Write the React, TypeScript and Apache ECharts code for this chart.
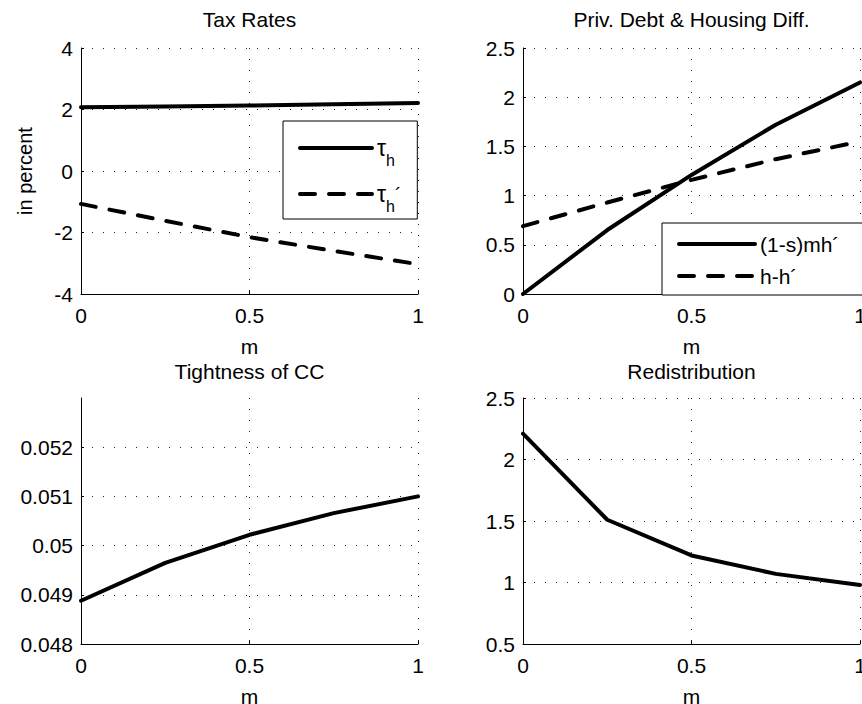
import React, { useEffect, useRef } from "react";
import * as echarts from "echarts";

// ---- data ----
const mValues = [0, 0.25, 0.5, 0.75, 1];
const tauH = [2.07, 2.1, 2.13, 2.17, 2.21];
const tauHPrime = [-1.07, -1.62, -2.15, -2.6, -3.03];
const privDebt = [0, 0.65, 1.21, 1.72, 2.15];
const housingDiff = [0.69, 0.93, 1.16, 1.37, 1.55];
const tightness = [0.04888, 0.04965, 0.05022, 0.05066, 0.051];
const redistribution = [2.21, 1.51, 1.22, 1.07, 0.98];

const titles = ["Tax Rates", "Priv. Debt & Housing Diff.", "Tightness of CC", "Redistribution"];
const xTicks = [0, 0.5, 1];
const yTicksTax = [-4, -2, 0, 2, 4];
const yTicksDebt = [0, 0.5, 1, 1.5, 2, 2.5];
const yTicksTight = [0.048, 0.049, 0.05, 0.051, 0.052, 0.053];
const yTicksRedis = [0.5, 1, 1.5, 2, 2.5];

const seriesNames = {
  tauH: "tau_h",
  tauHPrime: "tau_h_prime",
  privDebt: "(1-s)mh´",
  housingDiff: "h-h´",
  tightness: "Tightness of CC",
  redistribution: "Redistribution",
};

const FONT = "'Liberation Sans', Arial, Helvetica, sans-serif";
const FS = 21;
const DASH = [15, 14];

const pairs = (ys: number[]) => mValues.map((x, i) => [x, ys[i]]);

const grids = [
  { left: 81, top: 48, width: 337, height: 246 },
  { left: 523, top: 48, width: 337, height: 246 },
  { left: 81, top: 398, width: 337, height: 246 },
  { left: 523, top: 398, width: 337, height: 246 },
];

const gridLineStyle = { color: "#222", width: 1, type: [1, 10] as number[] };

function xAxisFor(gridIndex: number) {
  return {
    type: "value",
    gridIndex,
    min: xTicks[0],
    max: xTicks[xTicks.length - 1],
    interval: xTicks[1] - xTicks[0],
    name: "m",
    nameLocation: "middle",
    nameGap: 42,
    nameTextStyle: { fontFamily: FONT, fontSize: FS, color: "#000" },
    axisLine: { show: true, onZero: false, lineStyle: { color: "#000", width: 1 } },
    axisTick: { show: true, inside: true, length: 3, lineStyle: { color: "#000" } },
    axisLabel: {
      fontFamily: FONT,
      fontSize: FS,
      color: "#000",
      margin: 11,
      alignMinLabel: "center",
      alignMaxLabel: "center",
    },
    splitLine: { show: true, showMinLine: false, lineStyle: gridLineStyle },
  };
}

function yAxisFor(gridIndex: number, ticks: number[], extra: any = {}) {
  return {
    type: "value",
    gridIndex,
    min: ticks[0],
    max: ticks[ticks.length - 1],
    interval: +(ticks[1] - ticks[0]).toFixed(6),
    axisLine: { show: true, onZero: false, lineStyle: { color: "#000", width: 1 } },
    axisTick: { show: true, inside: true, length: 3, lineStyle: { color: "#000" } },
    axisLabel: {
      fontFamily: FONT,
      fontSize: FS,
      color: "#000",
      margin: 8,
      showMaxLabel: extra.hideMax ? false : true,
    },
    splitLine: {
      show: true,
      showMinLine: false,
      showMaxLine: extra.hideMax ? false : true,
      lineStyle: gridLineStyle,
    },
    ...(extra.name
      ? {
          name: extra.name,
          nameLocation: "middle",
          nameGap: 46,
          nameRotate: 90,
          nameTextStyle: { fontFamily: FONT, fontSize: 20, color: "#000" },
        }
      : {}),
  };
}

function lineSeries(name: string, ys: number[], idx: number, dashed = false) {
  return {
    type: "line",
    name,
    xAxisIndex: idx,
    yAxisIndex: idx,
    data: pairs(ys),
    symbol: "none",
    showSymbol: false,
    lineStyle: {
      color: "#000",
      width: 4,
      type: dashed ? DASH : "solid",
      cap: "round",
      join: "round",
    },
    itemStyle: { color: "#000" },
    emphasis: { disabled: true },
    silent: true,
  };
}

const legendLine = { width: 4, cap: "round", color: "#000" };

export default function App() {
  const ref = useRef<HTMLDivElement>(null);

  useEffect(() => {
    if (!ref.current) return;
    const chart = echarts.init(ref.current, undefined, { renderer: "svg" });

    const titleCenters = grids.map((g) => g.left + g.width / 2);
    const titleTops = [9, 9, 361, 361];

    const option: any = {
      animation: false,
      backgroundColor: "#fff",
      title: titles.map((t, i) => ({
        text: t,
        left: titleCenters[i],
        top: titleTops[i],
        textAlign: "center",
        padding: 0,
        textStyle: { fontFamily: FONT, fontSize: FS, fontWeight: "normal", color: "#000" },
      })),
      grid: grids.map((g) => ({ ...g, containLabel: false, outerBoundsMode: "none" })),
      xAxis: [0, 1, 2, 3].map((i) => xAxisFor(i)),
      yAxis: [
        yAxisFor(0, yTicksTax, { name: "in percent" }),
        yAxisFor(1, yTicksDebt),
        yAxisFor(2, yTicksTight, { hideMax: true }),
        yAxisFor(3, yTicksRedis),
      ],
      legend: [
        {
          data: [seriesNames.tauH, seriesNames.tauHPrime],
          orient: "vertical",
          left: 283,
          top: 121,
          selectedMode: false,
          backgroundColor: "#fff",
          borderColor: "#000",
          borderWidth: 1,
          borderRadius: 0,
          padding: [7, 16, 5, 15],
          itemWidth: 72,
          itemHeight: 14,
          itemGap: 6,
          itemStyle: { opacity: 0 },
          lineStyle: legendLine,
          formatter: (name: string) =>
            name === seriesNames.tauH ? "{t|τ}{s|h}" : "{t|τ}{s|h}{a|´}",
          textStyle: {
            fontFamily: FONT,
            fontSize: FS,
            color: "#000",
            rich: {
              t: { fontFamily: FONT, fontSize: 23, lineHeight: 40, color: "#000" },
              s: {
                fontFamily: FONT,
                fontSize: 16,
                lineHeight: 16,
                padding: [24, 0, 0, 0],
                color: "#000",
              },
              a: { fontFamily: FONT, fontSize: 19, lineHeight: 40, color: "#000" },
            },
          },
        },
        {
          data: [seriesNames.privDebt, seriesNames.housingDiff],
          orient: "vertical",
          left: 662,
          top: 223,
          selectedMode: false,
          backgroundColor: "#fff",
          borderColor: "#000",
          borderWidth: 1,
          borderRadius: 0,
          padding: [9, 24, 7, 15],
          itemWidth: 76,
          itemHeight: 14,
          itemGap: 8,
          itemStyle: { opacity: 0 },
          lineStyle: legendLine,
          textStyle: { fontFamily: FONT, fontSize: FS, lineHeight: 24, color: "#000" },
        },
      ],
      series: [
        lineSeries(seriesNames.tauH, tauH, 0),
        lineSeries(seriesNames.tauHPrime, tauHPrime, 0, true),
        lineSeries(seriesNames.privDebt, privDebt, 1),
        lineSeries(seriesNames.housingDiff, housingDiff, 1, true),
        lineSeries(seriesNames.tightness, tightness, 2),
        lineSeries(seriesNames.redistribution, redistribution, 3),
      ],
    };

    chart.setOption(option);
    return () => chart.dispose();
  }, []);

  return (
    <div
      ref={ref}
      style={{ position: "fixed", left: 0, top: 0, width: 862, height: 704, background: "#fff" }}
    />
  );
}
